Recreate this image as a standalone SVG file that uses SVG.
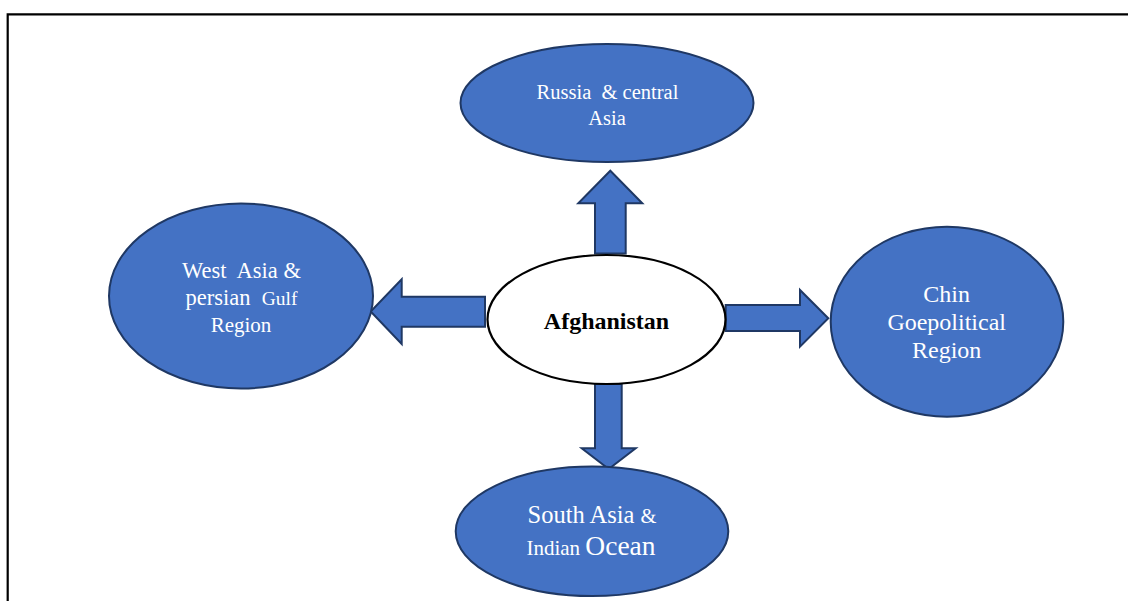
<svg xmlns="http://www.w3.org/2000/svg" width="1128" height="601" viewBox="0 0 1128 601">
<style>
.bg{fill:#ffffff}
.frame{fill:none;stroke:#000;stroke-width:2.2}
.arrow{fill:#4472C4;stroke:#1F3864;stroke-width:2;stroke-linejoin:miter}
.region{fill:#4472C4;stroke:#1F3864;stroke-width:2}
.core{fill:#ffffff;stroke:#000;stroke-width:2.2}
.t{font-family:"Liberation Serif","Times New Roman",serif;fill:#ffffff;text-anchor:middle;white-space:pre}
.tc{font-family:"Liberation Serif","Times New Roman",serif;fill:#000;text-anchor:middle;font-weight:bold}
</style>
<rect class="bg" x="0" y="0" width="1128" height="601"/>
<path class="frame" d="M7.7,601 V14.3 H1128"/>
<g id="connectors">
<path class="arrow" d="M595,253.5 V203.3 H578.3 L610.3,170.7 L642.3,203.3 H625.7 V253.5 Z"/>
<path class="arrow" d="M485,296.7 H401.7 V279.3 L370.7,311.5 L401.7,344 V326.7 H485 Z"/>
<path class="arrow" d="M725.7,305 H800 V290 L828.3,318.3 L800,346.7 V331 H725.7 Z"/>
<path class="arrow" d="M595,384 V448.3 H581.7 L608.7,469 L635.7,448.3 H621.7 V384 Z"/>
</g>
<g id="node-russia">
<ellipse class="region" cx="607" cy="103" rx="146.5" ry="59"/>
<text class="t" font-size="20.5" x="607.5" y="99.3" xml:space="preserve">Russia  &amp; central</text>
<text class="t" font-size="20.5" x="607" y="124.5">Asia</text>
</g>
<g id="node-westasia">
<ellipse class="region" cx="241" cy="296" rx="132" ry="92.5"/>
<text class="t" font-size="22.5" x="241.5" y="278.3" xml:space="preserve">West  Asia &amp;</text>
<text class="t" x="241.5" y="305" xml:space="preserve"><tspan font-size="22.5">persian  </tspan><tspan font-size="19.5">Gulf</tspan></text>
<text class="t" font-size="21" x="241" y="331.7">Region</text>
</g>
<g id="node-afghanistan">
<ellipse class="core" cx="606.5" cy="319.5" rx="119" ry="64.5"/>
<text class="tc" font-size="24" x="606.5" y="329">Afghanistan</text>
</g>
<g id="node-china">
<ellipse class="region" cx="947" cy="321.7" rx="116.3" ry="95"/>
<text class="t" font-size="24" x="946.7" y="302.3">Chin</text>
<text class="t" font-size="24" x="946.7" y="330">Goepolitical</text>
<text class="t" font-size="24" x="946.7" y="358.3">Region</text>
</g>
<g id="node-southasia">
<ellipse class="region" cx="592" cy="531.3" rx="136.3" ry="64.7"/>
<text class="t" x="592" y="523.3" xml:space="preserve"><tspan font-size="24.5">South Asia </tspan><tspan font-size="20.5">&amp;</tspan></text>
<text class="t" x="591" y="555" xml:space="preserve"><tspan font-size="21">Indian </tspan><tspan font-size="27.5">Ocean</tspan></text>
</g>
</svg>
